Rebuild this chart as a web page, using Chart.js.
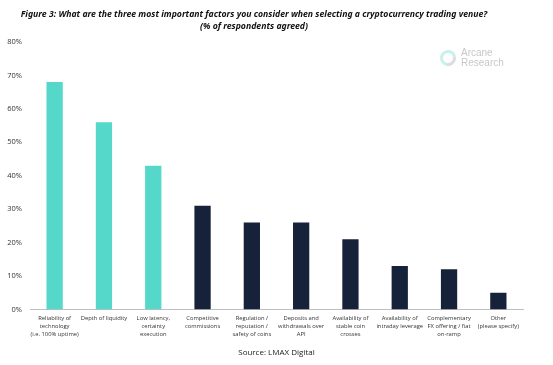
<!DOCTYPE html>
<html>
<head>
<meta charset="utf-8">
<script src="https://cdn.jsdelivr.net/npm/chart.js@4.4.0/dist/chart.umd.min.js"></script>
<style>
  html, body { margin: 0; padding: 0; background: #fff; }
  #wrap { width: 553px; height: 365px; }
</style>
</head>
<body>
<div id="wrap"><canvas id="chart"></canvas></div>
<script>
const factors = [
  ['Reliability of', 'technology', '(i.e. 100% uptime)'],
  ['Depth of liquidity'],
  ['Low latency,', 'certainty', 'execution'],
  ['Competitive', 'commissions'],
  ['Regulation /', 'reputation /', 'safety of coins'],
  ['Deposits and', 'withdrawals over', 'API'],
  ['Availability of', 'stable coin', 'crosses'],
  ['Availability of', 'intraday leverage'],
  ['Complementary', 'FX offering / fiat', 'on-ramp'],
  ['Other', '(please specify)']
];
const agreed = [68, 56, 43, 31, 26, 26, 21, 13, 12, 5];
const yTicks = [0, 10, 20, 30, 40, 50, 60, 70, 80];

const teal = '#55d7ca';
const navy = '#16213a';
const barColors = agreed.map((v, i) => i < 3 ? teal : navy);

// faint logo watermark, top right
const watermark = {
  id: 'watermark',
  afterDraw(chart) {
    const ctx = chart.ctx;
    ctx.save();
    ctx.lineWidth = 3;
    ctx.strokeStyle = '#c9f1ec';
    ctx.beginPath();
    ctx.arc(448, 58, 6.5, Math.PI * 0.55, Math.PI * 1.95);
    ctx.stroke();
    ctx.strokeStyle = '#dcdcdc';
    ctx.beginPath();
    ctx.arc(448, 58, 6.5, Math.PI * -0.05, Math.PI * 0.55);
    ctx.stroke();
    ctx.fillStyle = '#c8c8c8';
    ctx.font = '10px "Liberation Sans", Arial, sans-serif';
    ctx.textBaseline = 'middle';
    ctx.fillText('Arcane', 461, 53);
    ctx.fillText('Research', 461, 63);
    ctx.restore();
  }
};

new Chart(document.getElementById('chart'), {
  type: 'bar',
  data: {
    labels: factors,
    datasets: [{
      data: agreed,
      backgroundColor: barColors,
      barPercentage: 0.33,
      categoryPercentage: 1.0
    }]
  },
  options: {
    responsive: true,
    maintainAspectRatio: false,
    animation: false,
    layout: { padding: { left: -15, right: 30, top: 2, bottom: 2 } },
    plugins: {
      legend: { display: false },
      tooltip: { enabled: false },
      title: {
        display: true,
        text: ['Figure 3: What are the three most important factors you consider when selecting a cryptocurrency trading venue?',
               '(% of respondents agreed)'],
        color: '#111',
        font: { family: '"Noto Sans", sans-serif', size: 8.7, style: 'italic', weight: 'bold', lineHeight: 1.38 },
        padding: { top: 7, bottom: 9 }
      },
      subtitle: {
        display: true,
        position: 'bottom',
        fullSize: false,
        text: 'Source: LMAX Digital',
        color: '#222',
        font: { family: '"Open Sans", sans-serif', size: 8 },
        padding: { top: 4, bottom: 5 }
      }
    },
    scales: {
      y: {
        min: 0,
        max: 80,
        afterBuildTicks(scale) {
          scale.ticks = yTicks.map(v => ({ value: v }));
        },
        afterFit(scale) { scale.width = 45; },
        grid: { display: false },
        border: { display: false },
        ticks: {
          color: '#333',
          font: { family: '"Open Sans", sans-serif', size: 7.5 },
          padding: 0,
          callback: v => v + '%'
        }
      },
      x: {
        grid: { display: false, tickLength: 5 },
        border: { display: true, color: '#bfbfbf', width: 1 },
        afterFit(scale) { scale.height = 35; },
        ticks: {
          color: '#333',
          maxRotation: 0,
          autoSkip: false,
          padding: 0,
          font: { family: '"Open Sans", sans-serif', size: 5.8, lineHeight: 1.4 }
        }
      }
    }
  },
  plugins: [watermark]
});
</script>
</body>
</html>
